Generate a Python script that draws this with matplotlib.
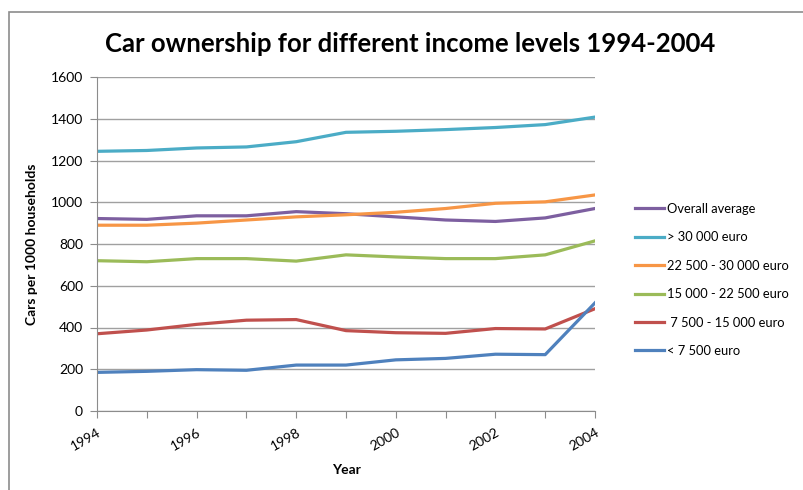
import matplotlib
matplotlib.use("Agg")
import matplotlib.pyplot as plt
from matplotlib.patches import Rectangle

years = [1994, 1995, 1996, 1997, 1998, 1999, 2000, 2001, 2002, 2003, 2004]
overall = [922, 918, 935, 935, 955, 945, 930, 915, 908, 925, 970]
above_30000 = [1244, 1248, 1260, 1265, 1290, 1335, 1340, 1348, 1358, 1372, 1408]
r22500_30000 = [890, 890, 900, 915, 930, 940, 952, 970, 995, 1002, 1035]
r15000_22500 = [720, 715, 730, 730, 718, 748, 738, 730, 730, 748, 815]
r7500_15000 = [370, 388, 415, 435, 438, 385, 375, 372, 395, 393, 490]
below_7500 = [185, 190, 198, 195, 220, 220, 245, 252, 272, 270, 518]

labels = ["Overall average", "> 30 000 euro", "22 500 - 30 000 euro",
          "15 000 - 22 500 euro", " 7 500 - 15 000 euro", "< 7 500 euro"]
colors = ["#7D5FA0", "#4BACC6", "#F79646", "#9BBB59", "#C0504D", "#4F81BD"]
series = [overall, above_30000, r22500_30000, r15000_22500, r7500_15000, below_7500]

plt.rcParams['font.family'] = ['Lato', 'DejaVu Sans']

fig = plt.figure(figsize=(8.04, 4.9), dpi=100)
fig.patches.append(Rectangle((9/804, -0.1), 1.0, 1 - 12/490 + 0.1, transform=fig.transFigure,
                             fill=False, edgecolor="#8c8c8c", linewidth=1.2))
ax = fig.add_axes([97/804, 1 - 411/490, (595 - 97)/804, (411 - 77)/490])

for s, c, l in zip(series, colors, labels):
    ax.plot(years, s, color=c, lw=2.3, label=l)

ax.set_xlim(1994, 2004)
ax.set_ylim(0, 1600)
ax.set_yticks(range(0, 1601, 200))
ax.set_xticks(years, minor=False)
ax.set_xticklabels([str(y) if (y - 1994) % 2 == 0 else "" for y in years],
                   rotation=30, ha="right", rotation_mode="anchor", fontsize=10)
ax.tick_params(axis="x", direction="out", length=5, color="#8c8c8c", pad=6)
ax.tick_params(axis="y", direction="out", length=5, color="#8c8c8c", labelsize=10, pad=5)
ax.grid(axis="y", color="#a0a0a0", lw=1)
ax.set_axisbelow(True)
for sp in ["top", "right"]:
    ax.spines[sp].set_visible(False)
for sp in ["left", "bottom"]:
    ax.spines[sp].set_color("#8c8c8c")

ax.set_xlabel("Year", fontsize=10, fontweight="bold", labelpad=8)
ax.set_ylabel("Cars per 1000 households", fontsize=10, fontweight="bold", labelpad=9)

fig.text(0.51, 1 - 44/490, "Car ownership for different income levels 1994-2004",
         ha="center", va="center", fontsize=18.5, fontweight="bold")

leg = ax.legend(loc="center left", bbox_to_anchor=(623/804, 1 - 280/490),
                bbox_transform=fig.transFigure, frameon=False, fontsize=9.3,
                handlelength=2.3, handletextpad=0.2, labelspacing=1.27)

fig.savefig("out.png", dpi=100)
